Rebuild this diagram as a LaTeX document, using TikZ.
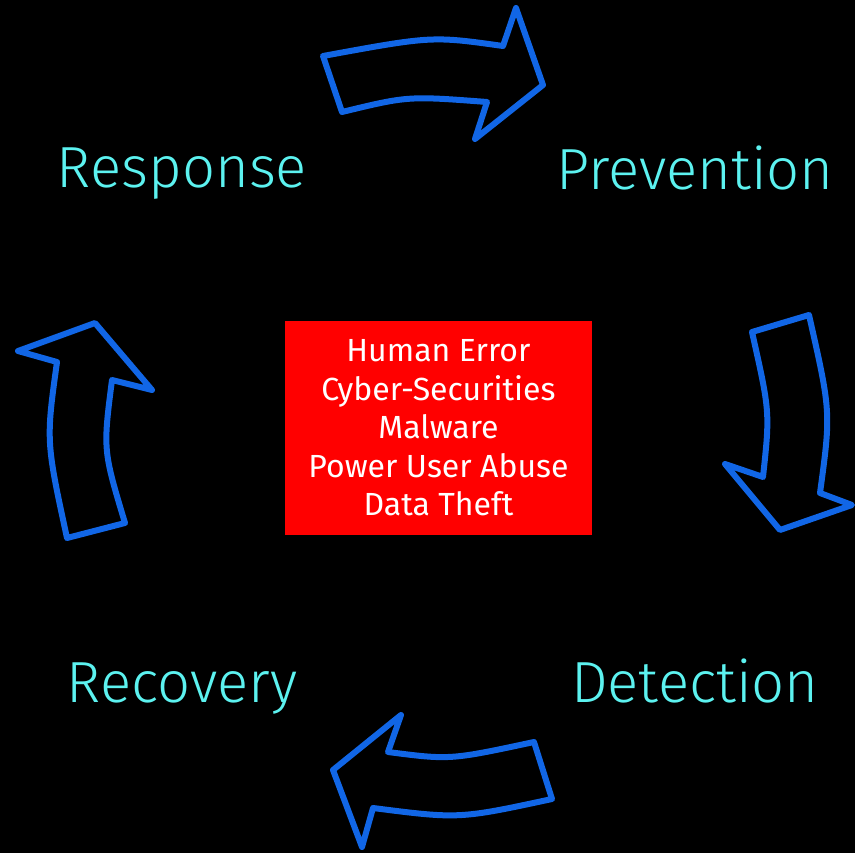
\documentclass[tikz,border=0pt]{standalone}
\usepackage{fontspec}
\setmainfont{Fira Sans}
\newfontfamily\labelfont{Fira Sans Light}
\begin{document}
\begin{tikzpicture}[x=1pt,y=-1pt,
  cyclearrow/.style={draw=arrowblue,line width=6pt,line join=round,line cap=round},
  phase/.style={text=phasecyan,font=\labelfont\fontsize{58}{66}\selectfont,inner sep=0pt,anchor=base},
  threats/.style={fill=red,text=white,minimum width=307pt,minimum height=214pt,inner sep=0pt,
    align=center,font=\fontsize{32}{38.5}\selectfont}]
\definecolor{arrowblue}{HTML}{1166E6}
\definecolor{phasecyan}{HTML}{5CF2F0}
% black canvas
\fill[black] (0,0) rectangle (855,853);
\useasboundingbox (0,0) rectangle (855,853);

% central box of threats
\node[threats] (threat) at (438.5,428) {Human Error\\Cyber-Securities\\Malware\\Power User Abuse\\Data Theft};

% phase labels, placed on their baselines
\node[phase] (response) at (182,188) {Response};
\node[phase] (prevention) at (695,190) {Prevention};
\node[phase] (recovery) at (182,702) {Recovery};
\node[phase] (detection) at (695,702) {Detection};

% top arrow: Response to Prevention
\draw[cyclearrow] (323,56) .. controls (432,36) .. (503,46) -- (516,8) -- (543,85)
  -- (475,139) -- (487,102) .. controls (408,96) .. (342,112) -- cycle;
% right arrow: Prevention to Detection
\draw[cyclearrow] (752,332) -- (809,315) .. controls (831,412) .. (820,493) -- (852,505)
  -- (780,530) -- (725,464) -- (763,477) .. controls (770,412) .. cycle;
% bottom arrow: Detection to Recovery
\draw[cyclearrow] (534,742) -- (552,799) .. controls (459,819) .. (373,808) -- (362,847)
  -- (333,770) -- (401,715) -- (388,752) .. controls (450,760) .. cycle;
% left arrow: Recovery to Response
\draw[cyclearrow] (67,538) -- (125,523) .. controls (103,450) .. (112,380) -- (152,390)
  -- (95,323) -- (18,351) -- (57,362) .. controls (46,441) .. cycle;
\end{tikzpicture}
\end{document}
